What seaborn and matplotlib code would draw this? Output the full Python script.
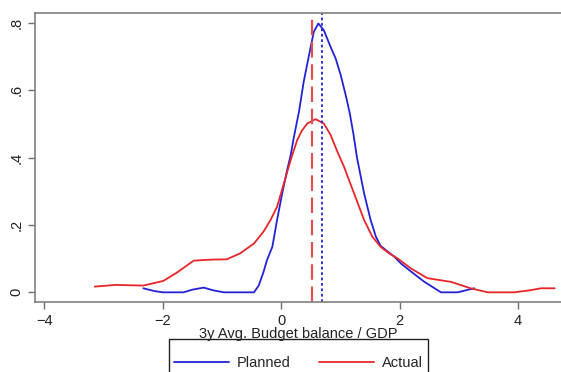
import numpy as np
import pandas as pd
import matplotlib
matplotlib.use('Agg')
import matplotlib.pyplot as plt
from matplotlib.patches import Rectangle
import seaborn as sns

# density curves
planned_x = [-2.33, -2.15, -2.0, -1.65, -1.5, -1.31, -1.15, -0.97, -0.46, -0.38,
             -0.3, -0.24, -0.15, -0.07, 0.017, 0.10, 0.16, 0.21, 0.30, 0.38,
             0.47, 0.55, 0.627, 0.72, 0.835, 0.92, 1.005, 1.09, 1.16, 1.22,
             1.28, 1.40, 1.51, 1.60, 1.68, 1.82, 1.91, 2.02, 2.22, 2.42,
             2.7, 2.98, 3.26]
planned_y = [0.012, 0.004, 0.0, 0.0, 0.008, 0.014, 0.006, 0.0, 0.0, 0.02,
             0.06, 0.096, 0.135, 0.215, 0.294, 0.363, 0.407, 0.457, 0.536, 0.625,
             0.704, 0.773, 0.798, 0.778, 0.728, 0.694, 0.645, 0.585, 0.53, 0.47,
             0.40, 0.294, 0.215, 0.165, 0.138, 0.118, 0.106, 0.086, 0.058, 0.031,
             0.0, 0.0, 0.012]

actual_x = [-3.15, -2.8, -2.33, -1.99, -1.75, -1.48, -1.2, -0.92, -0.69, -0.46,
            -0.3, -0.18, -0.07, 0.045, 0.16, 0.27, 0.35, 0.44, 0.58, 0.72,
            0.835, 0.95, 1.06, 1.23, 1.40, 1.54, 1.68, 1.82, 1.97, 2.2,
            2.47, 2.87, 3.2, 3.49, 3.94, 4.2, 4.39, 4.62]
actual_y = [0.017, 0.022, 0.02, 0.034, 0.06, 0.094, 0.097, 0.098, 0.116, 0.145,
            0.18, 0.215, 0.254, 0.323, 0.393, 0.452, 0.48, 0.501, 0.514, 0.501,
            0.467, 0.417, 0.373, 0.294, 0.215, 0.165, 0.135, 0.116, 0.10, 0.07,
            0.042, 0.031, 0.012, 0.0, 0.0, 0.006, 0.012, 0.012]

planned_mean = 0.69
actual_mean = 0.52

x_ticks = [-4, -2, 0, 2, 4]
y_ticks = [0, 0.2, 0.4, 0.6, 0.8]
y_labels = ['0', '.2', '.4', '.6', '.8']

blue = '#2323d6'
red = '#e8262a'

sns.set_style('white')
plt.rcParams['font.family'] = ['Liberation Sans', 'DejaVu Sans']

df = pd.concat([
    pd.DataFrame({'x': planned_x, 'y': planned_y, 'series': 'Planned'}),
    pd.DataFrame({'x': actual_x, 'y': actual_y, 'series': 'Actual'}),
])

fig = plt.figure(figsize=(5.61, 3.72), dpi=100)
ax = fig.add_axes([0.0624, 0.187, 0.94, 0.778])

sns.lineplot(data=df, x='x', y='y', hue='series', palette={'Planned': blue, 'Actual': red},
             estimator=None, sort=False, linewidth=1.3, ax=ax, legend=False)

ax.axvline(actual_mean, color='#e05252', linestyle=(0, (7, 3)), linewidth=1.6)
ax.axvline(planned_mean, color=blue, linestyle=(0, (1.5, 1.5)), linewidth=1.3)

ax.set_xlim(-4.16, 4.75)
ax.set_ylim(-0.030, 0.829)
ax.set_xticks(x_ticks)
ax.set_yticks(y_ticks)
ax.set_yticklabels(y_labels, rotation=90, va='center')
ax.tick_params(axis='both', direction='out', length=5, width=1, color='#707070',
               labelsize=10.5, labelcolor='#222222', bottom=True, left=True)
ax.set_xlabel('3y Avg. Budget balance / GDP', fontsize=10.5, color='#222222', labelpad=-1)
ax.set_ylabel('')
for side in ['left', 'bottom', 'top']:
    ax.spines[side].set_color('#808080')
    ax.spines[side].set_linewidth(1.2)
ax.spines['right'].set_visible(False)

# legend box, cut by the bottom edge as in the original
fig.patches.append(Rectangle((169 / 561, -0.05), (428 - 169) / 561, (372 - 339) / 372 + 0.05,
                             transform=fig.transFigure, facecolor='white',
                             edgecolor='#222222', linewidth=1, zorder=-1))
handles = [plt.Line2D([], [], color=blue, linewidth=1.3),
           plt.Line2D([], [], color=red, linewidth=1.3)]
fig.legend(handles, ['Planned', 'Actual'], loc='center', ncol=2,
           bbox_to_anchor=(0.532, 1 - 363 / 372), frameon=False, fontsize=10.5,
           handlelength=3.8, handletextpad=0.55, columnspacing=1.9)

fig.savefig('out.png', dpi=100, facecolor='white')
